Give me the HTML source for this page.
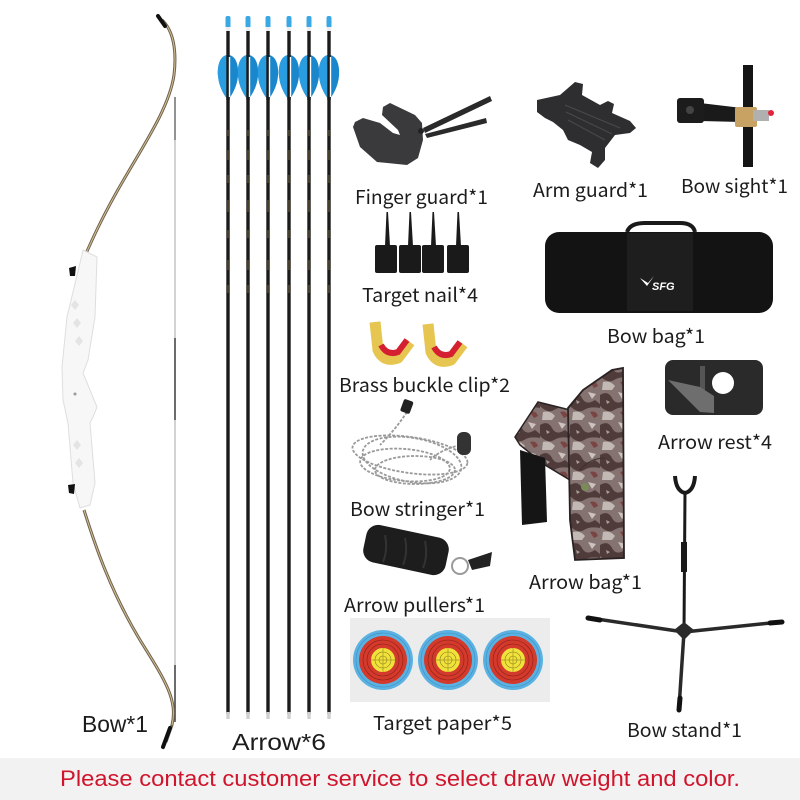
<!DOCTYPE html>
<html><head><meta charset="utf-8"><style>
html,body{margin:0;padding:0;background:#fff;}
svg{display:block;}
.lb{font-family:"Noto Sans CJK SC","Liberation Sans",sans-serif;font-size:19px;fill:#1c1c1c;}
.lb2{font-family:"Liberation Sans",sans-serif;font-size:23px;fill:#1c1c1c;}
</style></head><body>
<svg width="800" height="800" viewBox="0 0 800 800" xmlns="http://www.w3.org/2000/svg">
<defs>
<pattern id="camo" width="30" height="30" patternUnits="userSpaceOnUse">
<rect width="30" height="30" fill="#857371"/>
<path d="M0,5 Q8,0 12,8 T25,10 L30,14 L30,18 Q20,16 14,20 T0,16Z" fill="#4f3b3a"/>
<path d="M3,22 Q10,20 15,26 L12,30 L2,30Z" fill="#c2b8b4"/>
<path d="M18,2 L26,4 L22,9Z" fill="#cdc2be"/>
<path d="M20,22 Q26,20 28,26 L24,28Z" fill="#7a4442"/>
<path d="M6,10 L10,12 L7,14Z" fill="#a89c98"/>
</pattern>
<g id="arrow">
<rect x="-2.5" y="16" width="5" height="12" rx="2" fill="#3aa8e4"/>
<rect x="-2" y="27" width="4" height="5" fill="#eeeeee"/>
<rect x="-1.7" y="31" width="3.4" height="683" fill="#1b1b1b"/>
<path d="M0,55 C-8,55 -11,66 -10,76 C-9,87 -4,95 0,100 C4,95 9,87 10,76 C11,66 8,55 0,55Z" fill="#1a86cc"/>
<path d="M0,55 C-8,55 -11,66 -10,76 C-9,87 -4,95 0,100Z" fill="#2a9de0"/>
<rect x="-1.7" y="55" width="3.4" height="45" fill="#1b1b1b"/>
<rect x="0.8" y="57" width="1.4" height="40" fill="#ffffff"/>
<g fill="#b39a4a" opacity="0.7"><rect x="-0.4" y="130" width="0.8" height="6"/><rect x="-0.4" y="150" width="0.8" height="10"/><rect x="-0.4" y="175" width="0.8" height="8"/><rect x="-0.4" y="200" width="0.8" height="12"/><rect x="-0.4" y="230" width="0.8" height="8"/><rect x="-0.4" y="260" width="0.8" height="10"/><rect x="-0.4" y="285" width="0.8" height="8"/></g>
<rect x="-1.7" y="712" width="3.4" height="7" fill="#d0d0d0"/>
</g>
<g id="target">
<circle r="30" fill="#5ab2e2"/>
<circle r="27" fill="none" stroke="#3c8cc0" stroke-width="0.6"/>
<circle r="24" fill="#d33a2c"/>
<circle r="20" fill="none" stroke="#8a2018" stroke-width="0.6"/>
<circle r="16" fill="none" stroke="#8a2018" stroke-width="0.6"/>
<circle r="12" fill="#f0e23a"/>
<circle r="8" fill="none" stroke="#8a7a20" stroke-width="0.6"/>
<circle r="4" fill="none" stroke="#8a7a20" stroke-width="0.6"/>
<line x1="-12" y1="0" x2="12" y2="0" stroke="#8a7a20" stroke-width="0.5"/>
<line x1="0" y1="-12" x2="0" y2="12" stroke="#8a7a20" stroke-width="0.5"/>
</g>
</defs>

<rect width="800" height="800" fill="#ffffff"/>

<!-- BOW -->
<line x1="175" y1="97" x2="175" y2="720" stroke="#c4c4c4" stroke-width="1.5"/>
<line x1="175" y1="97" x2="175" y2="140" stroke="#777" stroke-width="1.5"/>
<line x1="175" y1="338" x2="175" y2="420" stroke="#444" stroke-width="1.5"/>
<line x1="175" y1="665" x2="175" y2="722" stroke="#444" stroke-width="1.5"/>
<path d="M162,20 C173,30 177,50 174,75 C169,110 140,150 115,195 C100,222 92,240 84,258" fill="none" stroke="#6e6250" stroke-width="3"/>
<path d="M162,20 C173,30 177,50 174,75 C169,110 140,150 115,195 C100,222 92,240 84,258" fill="none" stroke="#d6bf90" stroke-width="1"/>
<path d="M158,16 L165,26" stroke="#111" stroke-width="4" stroke-linecap="round"/>
<path d="M84,510 C95,545 110,590 140,640 C165,680 178,700 172,725 L166,742" fill="none" stroke="#6e6250" stroke-width="3"/>
<path d="M84,510 C95,545 110,590 140,640 C165,680 178,700 172,725" fill="none" stroke="#d6bf90" stroke-width="1"/>
<path d="M170,728 L163,747" stroke="#111" stroke-width="4" stroke-linecap="round"/>
<path d="M83,250 L97,257 L95,317 L88,360 L83,373 L97,407 L93,417 L90,423 L95,483 L90,505 L80,508 L73,483 L68,423 L63,400 L62,367 L67,317 L80,263 Z" fill="#f7f7f7" stroke="#dedede" stroke-width="1"/>
<g fill="#e4e4e4">
<path d="M75,300 l4,5 l-4,5 l-4,-5z"/><path d="M77,318 l4,5 l-4,5 l-4,-5z"/><path d="M79,336 l4,5 l-4,5 l-4,-5z"/>
<path d="M77,440 l4,5 l-4,5 l-4,-5z"/><path d="M79,458 l4,5 l-4,5 l-4,-5z"/>
</g>
<circle cx="75" cy="394" r="1.5" fill="#999"/>
<path d="M69,268 L76,266 L75,276 L70,276Z" fill="#111"/>
<path d="M68,485 L75,484 L74,494 L69,493Z" fill="#111"/>

<!-- ARROWS -->
<use href="#arrow" x="228"/>
<use href="#arrow" x="248"/>
<use href="#arrow" x="268"/>
<use href="#arrow" x="289"/>
<use href="#arrow" x="309"/>
<use href="#arrow" x="329"/>

<!-- FINGER GUARD -->
<path d="M423,128 L490,96 L492,101 L425,133Z" fill="#2a2a2a"/>
<path d="M425,134 L486,118 L487,123 L427,138Z" fill="#2a2a2a"/>
<path d="M353,127 L360,147 L377,162 L407,165 L418,158 L423,140 L422,123 L415,115 L390,103 L383,107 L382,115 L398,130 L400,135 L393,133 L380,123 L363,118 L355,122Z" fill="#3a3a3d"/>
<circle cx="421" cy="131" r="3" fill="#222"/>

<!-- ARM GUARD -->
<path d="M537,100 L560,95 L575,82 L583,84 L582,95 L600,105 L608,101 L614,104 L612,113 L630,121 L636,128 L630,133 L615,135 L605,148 L605,160 L598,168 L590,163 L592,152 L580,145 L568,140 L563,130 L553,122 L545,118 L537,112Z" fill="#2e2e30"/>
<path d="M565,105 L620,128 M566,112 L612,134 M568,120 L605,140" stroke="#4a4a4c" stroke-width="1"/>

<!-- BOW SIGHT -->
<rect x="743" y="65" width="10" height="102" fill="#151515"/>
<path d="M700,103 L742,108 L742,122 L700,121Z" fill="#1a1a1a"/>
<rect x="677" y="98" width="27" height="25" rx="3" fill="#1c1c1c"/>
<circle cx="690" cy="110" r="4" fill="#444"/>
<rect x="735" y="107" width="22" height="20" rx="2" fill="#c8a262"/>
<rect x="753" y="110" width="16" height="11" fill="#b0b0b0"/>
<circle cx="771" cy="113" r="3" fill="#e0243a"/>

<!-- TARGET NAILS -->
<g fill="#1a1a1a">
<rect x="375" y="245" width="22" height="28" rx="2"/>
<rect x="399" y="245" width="22" height="28" rx="2"/>
<rect x="422" y="245" width="22" height="28" rx="2"/>
<rect x="447" y="245" width="22" height="28" rx="2"/>
<path d="M385,246 L386.5,212 L388,212 L390,246Z"/>
<path d="M408,246 L409.5,212 L411,212 L413,246Z"/>
<path d="M431,246 L432.5,212 L434,212 L436,246Z"/>
<path d="M456,246 L457.5,212 L459,212 L461,246Z"/>
</g>

<!-- BOW BAG -->
<path d="M627,232 Q630,223 645,223 L680,223 Q693,223 695,232" fill="none" stroke="#1a1a1a" stroke-width="4"/>
<rect x="545" y="232" width="228" height="81" rx="14" fill="#131313"/>
<rect x="627" y="233" width="66" height="78" fill="#1e1e1e"/>
<path d="M640,278 L647,286 L654,276 L648,283Z" fill="#fff"/>
<text x="652" y="290" font-family="Liberation Sans,sans-serif" font-size="11" font-weight="bold" font-style="italic" fill="#ffffff">SFG</text>

<!-- BRASS CLIPS -->
<g>
<path d="M375,322 L378,350 Q384,363 398,358 L410,342" fill="none" stroke="#e6c650" stroke-width="11" stroke-linejoin="round"/>
<path d="M381,345 Q387,356 398,352 L407,340" fill="none" stroke="#d42030" stroke-width="6"/>
<path d="M428,324 L431,352 Q437,365 451,360 L463,344" fill="none" stroke="#e6c650" stroke-width="11" stroke-linejoin="round"/>
<path d="M434,347 Q440,358 451,354 L460,342" fill="none" stroke="#d42030" stroke-width="6"/>
</g>

<!-- BOW STRINGER -->
<g fill="none" stroke="#9a9a9a" stroke-width="1.8" stroke-dasharray="3 1.5">
<ellipse cx="410" cy="455" rx="58" ry="18" transform="rotate(8 410 455)"/>
<ellipse cx="412" cy="460" rx="50" ry="22" transform="rotate(10 412 460)"/>
<ellipse cx="405" cy="465" rx="45" ry="16" transform="rotate(5 405 465)"/>
<ellipse cx="415" cy="470" rx="40" ry="14"/>
<path d="M407,412 Q395,430 380,445"/>
<path d="M460,445 Q440,450 430,460"/>
</g>
<rect x="402" y="400" width="10" height="13" rx="2" fill="#222" transform="rotate(20 407 406)"/>
<rect x="457" y="432" width="14" height="23" rx="6" fill="#333"/>

<!-- ARROW PULLER -->
<rect x="364" y="531" width="84" height="38" rx="12" fill="#1d1d1d" transform="rotate(12 406 550)"/>
<path d="M385,535 Q388,550 383,562 M405,538 Q408,553 403,565 M425,541 Q428,556 423,568" stroke="#333" stroke-width="2" fill="none"/>
<circle cx="460" cy="566" r="8" fill="none" stroke="#9a9a9a" stroke-width="2"/>
<path d="M468,560 L492,552 L490,566 L472,570Z" fill="#222"/>

<!-- QUIVER -->
<path d="M515,437 L538,402 L570,410 L570,480 L545,465 L520,445Z" fill="url(#camo)" stroke="#2a2222" stroke-width="1.5"/>
<path d="M520,450 L545,458 L547,522 L522,525Z" fill="#151515"/>
<path d="M568,408 L583,390 L612,370 L623,368 L624,558 L575,560 L570,520Z" fill="url(#camo)" stroke="#2a2222" stroke-width="1.8"/>
<path d="M580,470 Q590,458 605,458" fill="none" stroke="#3a3030" stroke-width="1"/>
<circle cx="585" cy="487" r="4" fill="#7a8a5a"/>

<!-- ARROW REST -->
<rect x="665" y="360" width="98" height="55" rx="8" fill="#2a2a2a"/>
<circle cx="723" cy="383" r="11" fill="#ffffff"/>
<rect x="700" y="366" width="5" height="24" fill="#555"/>
<path d="M668,380 L700,387 L714,396 L714,413 L700,412Z" fill="#6e6e6e"/>

<!-- BOW STAND -->
<path d="M675,476 Q676,491 685,493 Q694,491 695,476" fill="none" stroke="#1a1a1a" stroke-width="4"/>
<line x1="685" y1="492" x2="684" y2="632" stroke="#1a1a1a" stroke-width="3"/>
<rect x="681" y="542" width="6" height="30" fill="#1a1a1a"/>
<line x1="684" y1="632" x2="590" y2="618" stroke="#2a2a2a" stroke-width="3.5" stroke-linecap="round"/>
<line x1="684" y1="632" x2="780" y2="622" stroke="#2a2a2a" stroke-width="3.5" stroke-linecap="round"/>
<line x1="684" y1="632" x2="679" y2="708" stroke="#2a2a2a" stroke-width="3.5" stroke-linecap="round"/>
<line x1="588" y1="618" x2="600" y2="620" stroke="#111" stroke-width="5" stroke-linecap="round"/>
<line x1="782" y1="622" x2="770" y2="623" stroke="#111" stroke-width="5" stroke-linecap="round"/>
<line x1="679" y1="710" x2="680" y2="698" stroke="#111" stroke-width="5" stroke-linecap="round"/>
<path d="M674,630 L684,622 L694,630 L684,640Z" fill="#2a2a2a"/>

<!-- TARGET PAPER -->
<rect x="350" y="618" width="200" height="84" fill="#ececec"/>
<use href="#target" x="383" y="660"/>
<use href="#target" x="448" y="660"/>
<use href="#target" x="513" y="660"/>

<!-- LABELS -->
<text class="lb2" x="82" y="732" textLength="66" lengthAdjust="spacingAndGlyphs">Bow*1</text>
<text class="lb2" x="232" y="750" textLength="94" lengthAdjust="spacingAndGlyphs">Arrow*6</text>
<text class="lb" x="355" y="204" textLength="133" lengthAdjust="spacingAndGlyphs">Finger guard*1</text>
<text class="lb" x="533" y="197" textLength="115" lengthAdjust="spacingAndGlyphs">Arm guard*1</text>
<text class="lb" x="681" y="193" textLength="107" lengthAdjust="spacingAndGlyphs">Bow sight*1</text>
<text class="lb" x="362" y="302" textLength="116" lengthAdjust="spacingAndGlyphs">Target nail*4</text>
<text class="lb" x="607" y="343" textLength="98" lengthAdjust="spacingAndGlyphs">Bow bag*1</text>
<text class="lb" x="339" y="392" textLength="171" lengthAdjust="spacingAndGlyphs">Brass buckle clip*2</text>
<text class="lb" x="658" y="449" textLength="114" lengthAdjust="spacingAndGlyphs">Arrow rest*4</text>
<text class="lb" x="350" y="516" textLength="135" lengthAdjust="spacingAndGlyphs">Bow stringer*1</text>
<text class="lb" x="529" y="589" textLength="113" lengthAdjust="spacingAndGlyphs">Arrow bag*1</text>
<text class="lb" x="344" y="612" textLength="141" lengthAdjust="spacingAndGlyphs">Arrow pullers*1</text>
<text class="lb" x="373" y="730" textLength="139" lengthAdjust="spacingAndGlyphs">Target paper*5</text>
<text class="lb" x="627" y="737" textLength="115" lengthAdjust="spacingAndGlyphs">Bow stand*1</text>

<!-- BANNER -->
<rect x="0" y="758" width="800" height="42" fill="#f2f2f2"/>
<text x="60" y="786" font-family="Liberation Sans,sans-serif" font-size="22" fill="#d0142c" textLength="680" lengthAdjust="spacingAndGlyphs">Please contact customer service to select draw weight and color.</text>
</svg>
</body></html>
